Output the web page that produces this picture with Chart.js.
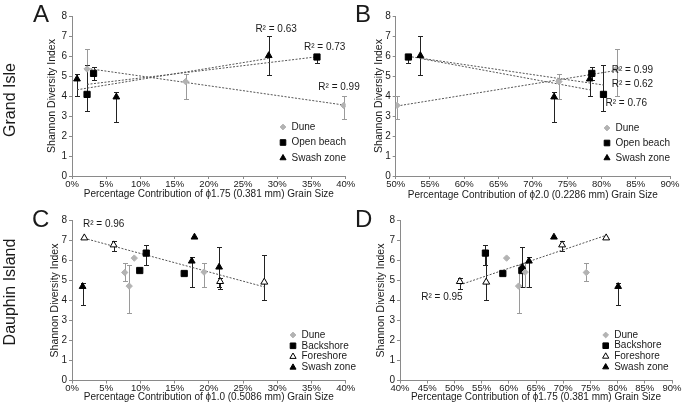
<!DOCTYPE html>
<html><head><meta charset="utf-8">
<script src="https://cdn.jsdelivr.net/npm/chart.js@4.4.1/dist/chart.umd.min.js"></script>
<style>
html,body{margin:0;padding:0;background:#fff;}
#wrap{position:relative;width:688px;height:407px;overflow:hidden;font-family:"Liberation Sans",Arial,sans-serif;color:#1a1a1a;}
canvas{position:absolute;}
.letter{position:absolute;font-size:24px;line-height:24px;}
.row{position:absolute;font-size:16px;line-height:16px;white-space:nowrap;transform:translate(-50%,-50%) rotate(-90deg);}
</style></head>
<body><div id="wrap">
<canvas id="cA" width="360" height="204" style="left:0;top:0"></canvas>
<canvas id="cB" width="344" height="204" style="left:344px;top:0"></canvas>
<canvas id="cC" width="360" height="203" style="left:0;top:204px"></canvas>
<canvas id="cD" width="344" height="203" style="left:344px;top:204px"></canvas>
<div class="letter" style="left:33px;top:2px">A</div>
<div class="letter" style="left:355px;top:2px">B</div>
<div class="letter" style="left:32px;top:207px">C</div>
<div class="letter" style="left:355px;top:207px">D</div>
<div class="row" style="left:10px;top:100px">Grand Isle</div>
<div class="row" style="left:10px;top:292px">Dauphin Island</div>
</div>
<script>
// ---------------- DATA ----------------
// Grand Isle – Shannon Diversity Index (shared by panels A and B)
const giDuneY   = [5.35, 4.72, 3.53];
const giDuneLo  = [4.0, 3.85, 2.85];
const giDuneHi  = [6.37, 5.1, 4.0];
const giBeachY  = [4.08, 5.13, 5.95];
const giBeachLo = [3.25, 4.78, 5.67];
const giBeachHi = [5.53, 5.43, 6.12];
const giSwashY  = [4.85, 3.95, 6.02];
const giSwashLo = [4.02, 2.7, 5.03];
const giSwashHi = [5.12, 4.18, 7.02];
// Panel A x: % phi1.75
const aDuneX  = [2.2, 16.6, 39.7];
const aBeachX = [2.2, 3.15, 35.8];
const aSwashX = [0.73, 6.48, 28.75];
// Panel B x: % phi2.0
const bDuneX  = [82.2, 73.8, 50.2];
const bBeachX = [80.3, 78.6, 51.85];
const bSwashX = [78.3, 73.1, 53.6];
// Dauphin Island – Shannon Diversity Index (shared by panels C and D)
const diDuneY   = [5.4, 4.72, 6.12, 5.42];
const diDuneLo  = [5.0, 3.4, null, 4.7];
const diDuneHi  = [5.87, 5.8, null, 5.87];
const diBackY   = [5.5, 6.37, 5.35];
const diBackLo  = [null, 5.8, null];
const diBackHi  = [null, 6.8, null];
const diForeY   = [7.13, 6.78, 4.95, 4.92];
const diForeLo  = [null, 6.47, 4.6, 4.05];
const diForeHi  = [null, 6.97, 5.15, 6.3];
const diSwashY  = [4.7, 5.97, 7.17, 5.67];
const diSwashLo = [3.8, 4.7, null, 4.7];
const diSwashHi = [4.9, 6.17, null, 6.7];
// Panel C x: % phi1.0
const cDuneX  = [7.7, 8.36, 9.1, 19.3];
const cBackX  = [9.9, 10.85, 16.4];
const cForeX  = [1.8, 6.08, 21.65, 28.1];
const cSwashX = [1.55, 17.5, 17.9, 21.5];
// Panel D x: % phi1.75
const dDuneX  = [74.25, 61.8, 59.6, 63.0];
const dBackX  = [62.4, 55.7, 58.9];
const dForeX  = [77.9, 69.8, 51.0, 55.85];
const dSwashX = [80.1, 63.7, 68.3, 62.5];
// Linear trend lines (end points)
const aTrendDuneX = [2.2, 39.7],  aTrendDuneY = [5.38, 3.55];
const aTrendBeachX = [2.2, 35.8], aTrendBeachY = [4.58, 5.96];
const aTrendSwashX = [0.73, 28.75], aTrendSwashY = [4.31, 5.88];
const bTrendDuneX = [50.2, 82.2], bTrendDuneY = [3.5, 5.28];
const bTrendBeachX = [51.85, 80.3], bTrendBeachY = [5.98, 4.55];
const bTrendSwashX = [53.6, 78.3], bTrendSwashY = [5.875, 4.31];
const cTrendForeX = [1.8, 28.1], cTrendForeY = [7.11, 4.68];
const dTrendForeX = [51.0, 77.9], dTrendForeY = [4.78, 7.26];
// R² labels
const aR2 = ['R² = 0.63', 'R² = 0.73', 'R² = 0.99'];
const bR2 = ['R² = 0.99', 'R² = 0.62', 'R² = 0.76'];
const cR2 = ['R² = 0.96'];
const dR2 = ['R² = 0.95'];

// ---------------- STYLE ----------------
const FONT = '"Liberation Sans", Arial, sans-serif';
const TXT = '#1a1a1a', AX = '#8a8a8a', GRAY = '#b3b3b3', TREND = '#555555';
const ST = {
  dune:  {style:'rectRot', r:3.2, fill:GRAY, stroke:GRAY, err:'#9a9a9a'},
  beach: {style:'rect', r:4.4, fill:'#000', stroke:'#000', err:'#222'},
  fore:  {style:'triangle', r:4.0, fill:'#fff', stroke:'#000', err:'#222'},
  swash: {style:'triangle', r:3.9, fill:'#000', stroke:'#000', err:'#222'}
};

const extras = {
  id: 'extras',
  beforeDatasetsDraw(chart) {
    const {ctx} = chart, x = chart.scales.x, y = chart.scales.y;
    ctx.save();
    ctx.lineWidth = 1;
    chart.data.datasets.forEach(ds => {
      if (!ds.errLo) return;
      ctx.strokeStyle = ds.errColor;
      ds.data.forEach((p, i) => {
        const lo = ds.errLo[i], hi = ds.errHi[i];
        if (lo == null) return;
        const px = Math.round(x.getPixelForValue(p.x)) + 0.5;
        const yl = Math.round(y.getPixelForValue(lo)) + 0.5, yh = Math.round(y.getPixelForValue(hi)) + 0.5;
        ctx.beginPath();
        ctx.moveTo(px, yl); ctx.lineTo(px, yh);
        ctx.moveTo(px - 2.5, yl); ctx.lineTo(px + 2.5, yl);
        ctx.moveTo(px - 2.5, yh); ctx.lineTo(px + 2.5, yh);
        ctx.stroke();
      });
    });
    ctx.restore();
  },
  afterDraw(chart) {
    const o = chart.options.plugins.extras;
    const {ctx, chartArea: ca} = chart, x = chart.scales.x, y = chart.scales.y;
    ctx.save();
    ctx.font = '10px ' + FONT;
    ctx.fillStyle = TXT;
    ctx.textBaseline = 'middle';
    ctx.textAlign = 'left';
    o.labels.forEach(l => ctx.fillText(l.text, x.getPixelForValue(l.x), y.getPixelForValue(l.y)));
    o.legend.items.forEach((it, i) => {
      const s = ST[it.key];
      const cy = ca.top + o.legend.top + i * o.legend.gap;
      const mx = ca.left + o.legend.left;
      ctx.fillStyle = s.fill; ctx.strokeStyle = s.stroke; ctx.lineWidth = 1;
      Chart.helpers.drawPoint(ctx, {pointStyle: s.style, radius: s.r * 0.9, borderWidth: 1, rotation: 0}, mx, cy);
      ctx.fillStyle = TXT;
      ctx.fillText(it.label, mx + 8.5, cy);
    });
    ctx.restore();
  }
};

function series(label, key, xs, ys, lo, hi) {
  const s = ST[key];
  return {label, data: xs.map((v, i) => ({x: v, y: ys[i]})), errLo: lo, errHi: hi, errColor: s.err,
    pointStyle: s.style, pointRadius: s.r, pointHoverRadius: s.r, backgroundColor: s.fill,
    borderColor: s.stroke, borderWidth: 1, showLine: false};
}
function trend(xs, ys) {
  return {data: xs.map((v, i) => ({x: v, y: ys[i]})), showLine: true, borderColor: TREND, borderWidth: 1,
    borderDash: [2, 1.5], pointRadius: 0, fill: false};
}

function makePanel(id, p) {
  new Chart(document.getElementById(id), {
    type: 'scatter',
    data: {datasets: p.datasets},
    plugins: [extras],
    options: {
      responsive: false, animation: false, devicePixelRatio: 1, events: [],
      layout: {padding: p.pad},
      plugins: {legend: {display: false}, tooltip: {enabled: false},
        extras: {labels: p.labels, legend: p.legend}},
      scales: {
        x: {type: 'linear', min: p.xmin, max: p.xmax,
          ticks: {stepSize: 5, autoSkip: false, maxRotation: 0, minRotation: 0, padding: 0, color: TXT,
            font: {family: FONT, size: 9.5, lineHeight: 1.1}, callback: v => v + '%'},
          grid: {display: true, drawOnChartArea: false, drawTicks: true, tickLength: 3, color: AX},
          border: {display: true, color: AX, width: 1},
          title: {display: true, text: p.xTitle, color: TXT, padding: 0, font: {family: FONT, size: 10, lineHeight: 1.2}},
          afterFit: s => { s.height = p.xh; }},
        y: {type: 'linear', min: 0, max: 8,
          ticks: {stepSize: 1, padding: 2, color: TXT, font: {family: FONT, size: 10, lineHeight: 1.1}},
          grid: {display: true, drawOnChartArea: false, drawTicks: true, tickLength: 3, color: AX},
          border: {display: true, color: AX, width: 1},
          title: {display: true, text: 'Shannon Diversity Index', color: TXT, padding: 0, font: {family: FONT, size: 10.5, lineHeight: 1.2}},
          afterFit: s => { s.width = p.yw; }}
      }
    }
  });
}

makePanel('cA', {
  xmin: 0, xmax: 40, xTitle: 'Percentage Contribution of \u03d51.75 (0.381 mm) Grain Size',
  pad: {left: 45.7, top: 16, right: 14.3, bottom: 3.5}, yw: 26.3, xh: 24.5,
  datasets: [
    series('Dune', 'dune', aDuneX, giDuneY, giDuneLo, giDuneHi),
    series('Open beach', 'beach', aBeachX, giBeachY, giBeachLo, giBeachHi),
    series('Swash zone', 'swash', aSwashX, giSwashY, giSwashLo, giSwashHi),
    trend(aTrendDuneX, aTrendDuneY), trend(aTrendBeachX, aTrendBeachY), trend(aTrendSwashX, aTrendSwashY)
  ],
  labels: [{text: aR2[0], x: 26.8, y: 7.35}, {text: aR2[1], x: 33.9, y: 6.45}, {text: aR2[2], x: 36.0, y: 4.43}],
  legend: {left: 211, top: 111, gap: 15.5, items: [{key: 'dune', label: 'Dune'}, {key: 'beach', label: 'Open beach'}, {key: 'swash', label: 'Swash zone'}]}
});

makePanel('cB', {
  xmin: 50, xmax: 90, xTitle: 'Percentage Contribution of \u03d52.0 (0.2286 mm) Grain Size',
  pad: {left: 28.7, top: 16, right: 18, bottom: 3}, yw: 23, xh: 25,
  datasets: [
    series('Dune', 'dune', bDuneX, giDuneY, giDuneLo, giDuneHi),
    series('Open beach', 'beach', bBeachX, giBeachY, giBeachLo, giBeachHi),
    series('Swash zone', 'swash', bSwashX, giSwashY, giSwashLo, giSwashHi),
    trend(bTrendDuneX, bTrendDuneY), trend(bTrendBeachX, bTrendBeachY), trend(bTrendSwashX, bTrendSwashY)
  ],
  labels: [{text: bR2[0], x: 81.5, y: 5.3}, {text: bR2[1], x: 81.5, y: 4.6}, {text: bR2[2], x: 80.6, y: 3.63}],
  legend: {left: 211.3, top: 112, gap: 15, items: [{key: 'dune', label: 'Dune'}, {key: 'beach', label: 'Open beach'}, {key: 'swash', label: 'Swash zone'}]}
});

makePanel('cC', {
  xmin: 0, xmax: 40, xTitle: 'Percentage Contribution of \u03d51.0 (0.5086 mm) Grain Size',
  pad: {left: 48.7, top: 16.5, right: 14.3, bottom: 3.5}, yw: 23.3, xh: 23,
  datasets: [
    series('Dune', 'dune', cDuneX, diDuneY, diDuneLo, diDuneHi),
    series('Backshore', 'beach', cBackX, diBackY, diBackLo, diBackHi),
    series('Foreshore', 'fore', cForeX, diForeY, diForeLo, diForeHi),
    series('Swash zone', 'swash', cSwashX, diSwashY, diSwashLo, diSwashHi),
    trend(cTrendForeX, cTrendForeY)
  ],
  labels: [{text: cR2[0], x: 1.6, y: 7.83}],
  legend: {left: 221, top: 114.5, gap: 10.8, items: [{key: 'dune', label: 'Dune'}, {key: 'beach', label: 'Backshore'}, {key: 'fore', label: 'Foreshore'}, {key: 'swash', label: 'Swash zone'}]}
});

makePanel('cD', {
  xmin: 40, xmax: 90, xTitle: 'Percentage Contribution of \u03d51.75 (0.381 mm) Grain Size',
  pad: {left: 30.4, top: 16.5, right: 16, bottom: 3.5}, yw: 25.6, xh: 23,
  datasets: [
    series('Dune', 'dune', dDuneX, diDuneY, diDuneLo, diDuneHi),
    series('Backshore', 'beach', dBackX, diBackY, diBackLo, diBackHi),
    series('Foreshore', 'fore', dForeX, diForeY, diForeLo, diForeHi),
    series('Swash zone', 'swash', dSwashX, diSwashY, diSwashLo, diSwashHi),
    trend(dTrendForeX, dTrendForeY)
  ],
  labels: [{text: dR2[0], x: 43.9, y: 4.14}],
  legend: {left: 205.7, top: 114.5, gap: 10.7, items: [{key: 'dune', label: 'Dune'}, {key: 'beach', label: 'Backshore'}, {key: 'fore', label: 'Foreshore'}, {key: 'swash', label: 'Swash zone'}]}
});
</script>
</body></html>
